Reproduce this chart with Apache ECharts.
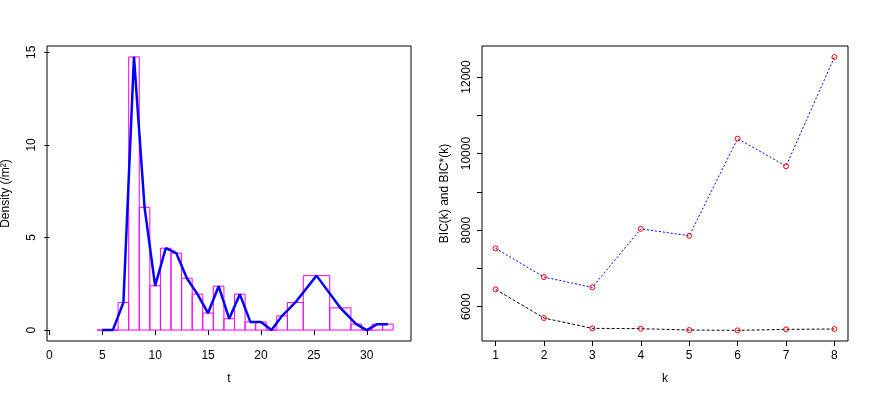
<!DOCTYPE html>
<html>
<head>
<meta charset="utf-8">
<script src="https://cdn.jsdelivr.net/npm/echarts@6/dist/echarts.min.js"></script>
<style>
  html, body { margin: 0; padding: 0; background: #fff; }
  #chart { width: 872px; height: 399px; }
</style>
</head>
<body>
<div id="chart"></div>
<script>
// histogram (left panel)
const breaks = [4.5, 5.5, 6.5, 7.5, 8.5, 9.5, 10.5, 11.5, 12.5, 13.5, 14.5, 15.5, 16.5, 17.5, 18.5, 19.5, 20.5, 21.5, 22.5, 24, 26.5, 28.5, 29.5, 30.5, 31.5, 32.5];
const density = [0, 0, 1.49, 14.75, 6.63, 2.39, 4.42, 4.15, 2.80, 1.94, 0.92, 2.37, 0.61, 1.94, 0.44, 0.44, 0, 0.77, 1.49, 2.94, 1.2, 0.32, 0, 0.32, 0.32];
// bin mid points, for the polygon
const midT = [5, 6, 7, 8, 9, 10, 11, 12, 13, 14, 15, 16, 17, 18, 19, 20, 21, 22, 23.25, 25.25, 27.5, 29, 30, 31, 32];
const tTicks = [0, 5, 10, 15, 20, 25, 30];
const densTicks = [0, 5, 10, 15];

// BIC (right panel)
const kValues = [1, 2, 3, 4, 5, 6, 7, 8];
const bicStar = [7524, 6775, 6506, 8035, 7852, 10390, 9671, 12522];
const bic = [6453, 5705, 5436, 5427, 5392, 5383, 5409, 5418];
const bicTicks = [6000, 7000, 8000, 9000, 10000, 11000, 12000];
const bicLabels = [6000, 8000, 10000, 12000];

const font = "'Liberation Sans', Arial, Helvetica, sans-serif";

const binData = [];
for (let i = 0; i < density.length; i++) {
  binData.push([breaks[i], breaks[i + 1], density[i]]);
}

function axisX(min, max, ticks, name, gridIndex) {
  return {
    type: 'value', gridIndex: gridIndex, min: min, max: max,
    name: name, nameLocation: 'middle', nameGap: 32,
    nameTextStyle: { color: '#000', fontSize: 12, fontFamily: font },
    axisLine: { show: false },
    axisTick: { show: true, length: 5, customValues: ticks, lineStyle: { color: '#000' } },
    axisLabel: { customValues: ticks, margin: 9, color: '#000', fontSize: 12, fontFamily: font,
      formatter: v => String(v) },
    splitLine: { show: false }
  };
}

function axisY(min, max, ticks, labels, name, gridIndex, nameGap) {
  return {
    type: 'value', gridIndex: gridIndex, min: min, max: max,
    name: name, nameLocation: 'middle', nameGap: nameGap,
    nameTextStyle: { color: '#000', fontSize: 12, fontFamily: font },
    axisLine: { show: false },
    axisTick: { show: true, length: 5, customValues: ticks, lineStyle: { color: '#000' } },
    axisLabel: { customValues: labels, rotate: 90, margin: 9, color: '#000', fontSize: 12, fontFamily: font,
      formatter: v => String(v) },
    splitLine: { show: false }
  };
}

const chart = echarts.init(document.getElementById('chart'), null, { renderer: 'canvas' });
const option = {
  backgroundColor: '#fff',
  animation: false,
  grid: [
    { left: 47, top: 46, width: 364, height: 295, show: true, borderColor: '#000', borderWidth: 1, backgroundColor: 'transparent', outerBoundsMode: 'none' },
    { left: 482, top: 46, width: 366, height: 295, show: true, borderColor: '#000', borderWidth: 1, backgroundColor: 'transparent', outerBoundsMode: 'none' }
  ],
  xAxis: [
    axisX(-0.22, 34.18, tTicks, 't', 0),
    axisX(0.72, 8.28, kValues, 'k', 1)
  ],
  yAxis: [
    axisY(-0.59, 15.34, densTicks, densTicks, 'Density (/m²)', 0, 35),
    axisY(5105, 12809, bicTicks, bicLabels, 'BIC(k) and BIC*(k)', 1, 31)
  ],
  series: [
    {
      type: 'custom', xAxisIndex: 0, yAxisIndex: 0,
      data: binData,
      encode: { x: [0, 1], y: 2 },
      renderItem: function (params, api) {
        const p0 = api.coord([api.value(0), api.value(2)]);
        const p1 = api.coord([api.value(1), 0]);
        return {
          type: 'rect',
          shape: { x: p0[0], y: p0[1], width: p1[0] - p0[0], height: p1[1] - p0[1] },
          style: { fill: 'none', stroke: '#ff00ff', lineWidth: 1 }
        };
      }
    },
    {
      type: 'line', xAxisIndex: 0, yAxisIndex: 0,
      data: midT.map((t, i) => [t, density[i]]),
      showSymbol: false,
      lineStyle: { color: '#0000ff', width: 2.5 },
      z: 3
    },
    {
      type: 'line', xAxisIndex: 1, yAxisIndex: 1,
      data: kValues.map((k, i) => [k, bicStar[i]]),
      symbol: 'circle', symbolSize: 5,
      itemStyle: { color: 'rgba(0,0,0,0)', borderColor: '#ff0000', borderWidth: 1 },
      lineStyle: { color: '#0000ff', width: 1, type: [2, 2] }
    },
    {
      type: 'line', xAxisIndex: 1, yAxisIndex: 1,
      data: kValues.map((k, i) => [k, bic[i]]),
      symbol: 'circle', symbolSize: 5,
      itemStyle: { color: 'rgba(0,0,0,0)', borderColor: '#ff0000', borderWidth: 1 },
      lineStyle: { color: '#000000', width: 1, type: [3, 2] }
    }
  ]
};
chart.setOption(option);
</script>
</body>
</html>
